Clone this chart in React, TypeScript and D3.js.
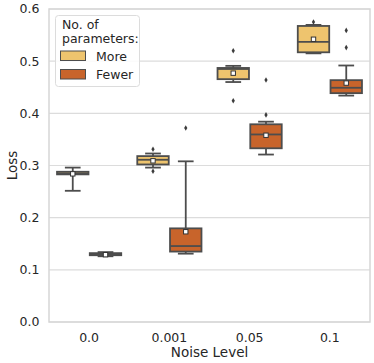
import React, { useEffect, useRef } from 'react';
import * as d3 from 'd3';

const noiseLevels = ['0.0', '0.001', '0.05', '0.1'];
const paramGroups = ['More', 'Fewer'];
const yTicks = [0.0, 0.1, 0.2, 0.3, 0.4, 0.5, 0.6];

// box stats per noise level
const moreLow = [0.2515, 0.296, 0.46, 0.515];
const moreQ1 = [0.283, 0.302, 0.4655, 0.517];
const moreMedian = [0.285, 0.311, 0.485, 0.537];
const moreQ3 = [0.288, 0.318, 0.487, 0.5675];
const moreHigh = [0.296, 0.323, 0.491, 0.5695];
const moreMean = [0.284, 0.309, 0.477, 0.542];
const moreOutliers = [[], [0.331, 0.289], [0.52, 0.424], [0.575]];

const fewerLow = [0.126, 0.131, 0.321, 0.434];
const fewerQ1 = [0.128, 0.135, 0.333, 0.4387];
const fewerMedian = [0.13, 0.1456, 0.3595, 0.449];
const fewerQ3 = [0.132, 0.1795, 0.379, 0.4636];
const fewerHigh = [0.134, 0.308, 0.384, 0.4917];
const fewerMean = [0.129, 0.173, 0.358, 0.458];
const fewerOutliers = [[], [0.372], [0.397, 0.464], [0.559, 0.526]];

const colors = { More: '#eec46e', Fewer: '#c8642b' };
const edge = '#4d4d4d';

export default function App() {
  const ref = useRef<SVGSVGElement>(null);

  useEffect(() => {
    const svg = d3.select(ref.current);
    svg.selectAll('*').remove();

    const margin = { top: 9, right: 4, bottom: 41, left: 49 };
    const width = 374, height = 363;
    const font = 'DejaVu Sans, sans-serif';

    const x = d3.scaleBand().domain(noiseLevels)
      .range([margin.left, width - margin.right]);
    const hue = d3.scaleBand().domain(paramGroups)
      .range([0, x.bandwidth() * 0.8]).paddingInner(0.04);
    const y = d3.scaleLinear().domain([0, 0.6])
      .range([height - margin.bottom, margin.top]);

    // grid
    svg.append('g').selectAll('line').data(yTicks).enter().append('line')
      .attr('x1', margin.left).attr('x2', width - margin.right)
      .attr('y1', d => y(d)).attr('y2', d => y(d))
      .attr('stroke', '#dcdcdc').attr('stroke-width', 1.2);
    svg.append('rect')
      .attr('x', margin.left).attr('y', margin.top)
      .attr('width', width - margin.right - margin.left)
      .attr('height', height - margin.bottom - margin.top)
      .attr('fill', 'none').attr('stroke', '#d6d6d6').attr('stroke-width', 1.5);

    // tick labels
    svg.append('g').selectAll('text').data(yTicks).enter().append('text')
      .attr('x', margin.left - 9.5).attr('y', d => y(d)).attr('dy', '0.35em')
      .attr('text-anchor', 'end').attr('font-family', font).attr('font-size', 12.5)
      .attr('fill', '#262626').text(d => d.toFixed(1));
    svg.append('g').selectAll('text').data(noiseLevels).enter().append('text')
      .attr('x', d => x(d)! + x.bandwidth() / 2).attr('y', height - margin.bottom + 20)
      .attr('text-anchor', 'middle').attr('font-family', font).attr('font-size', 12.5)
      .attr('fill', '#262626').text(d => d);

    svg.append('text')
      .attr('x', (margin.left + width - margin.right) / 2).attr('y', height - 6)
      .attr('text-anchor', 'middle').attr('font-family', font).attr('font-size', 13.5)
      .attr('fill', '#262626').text('Noise Level');
    svg.append('text')
      .attr('transform', `translate(17,${y(0.3)}) rotate(-90)`)
      .attr('text-anchor', 'middle').attr('font-family', font).attr('font-size', 13.5)
      .attr('fill', '#262626').text('Loss');

    const series = [
      { key: 'More', low: moreLow, q1: moreQ1, med: moreMedian, q3: moreQ3, high: moreHigh, mean: moreMean, out: moreOutliers },
      { key: 'Fewer', low: fewerLow, q1: fewerQ1, med: fewerMedian, q3: fewerQ3, high: fewerHigh, mean: fewerMean, out: fewerOutliers },
    ];

    series.forEach(s => {
      noiseLevels.forEach((lvl, i) => {
        const x0 = x(lvl)! + x.bandwidth() * 0.1 + hue(s.key)!;
        const w = hue.bandwidth();
        const cx = x0 + w / 2;
        const g = svg.append('g');
        const lw = 1.8;
        g.append('line').attr('x1', cx).attr('x2', cx)
          .attr('y1', y(s.low[i])).attr('y2', y(s.q1[i]))
          .attr('stroke', edge).attr('stroke-width', lw);
        g.append('line').attr('x1', cx).attr('x2', cx)
          .attr('y1', y(s.q3[i])).attr('y2', y(s.high[i]))
          .attr('stroke', edge).attr('stroke-width', lw);
        [s.low[i], s.high[i]].forEach(v => {
          g.append('line').attr('x1', cx - w / 4).attr('x2', cx + w / 4)
            .attr('y1', y(v)).attr('y2', y(v))
            .attr('stroke', edge).attr('stroke-width', lw);
        });
        g.append('rect')
          .attr('x', x0).attr('y', y(s.q3[i]))
          .attr('width', w).attr('height', Math.max(y(s.q1[i]) - y(s.q3[i]), 1))
          .attr('fill', colors[s.key as 'More' | 'Fewer'])
          .attr('stroke', edge).attr('stroke-width', lw);
        g.append('line').attr('x1', x0).attr('x2', x0 + w)
          .attr('y1', y(s.med[i])).attr('y2', y(s.med[i]))
          .attr('stroke', edge).attr('stroke-width', lw);
        s.out[i].forEach(v => {
          g.append('path')
            .attr('d', d3.symbol(d3.symbolDiamond, 9)())
            .attr('transform', `translate(${cx},${y(v)})`)
            .attr('fill', '#3c3c3c');
        });
        g.append('rect')
          .attr('x', cx - 2.2).attr('y', y(s.mean[i]) - 2.2)
          .attr('width', 4.4).attr('height', 4.4)
          .attr('fill', 'white').attr('stroke', '#333').attr('stroke-width', 1);
      });
    });

    // legend
    const lg = svg.append('g');
    lg.append('rect').attr('x', 55.5).attr('y', 15.5).attr('width', 84).attr('height', 71)
      .attr('rx', 3).attr('fill', 'white').attr('fill-opacity', 0.85)
      .attr('stroke', '#dcdcdc');
    lg.append('text').attr('x', 62).attr('y', 29).attr('font-family', font)
      .attr('font-size', 12.5).attr('fill', '#262626').text('No. of');
    lg.append('text').attr('x', 62).attr('y', 43).attr('font-family', font)
      .attr('font-size', 12.5).attr('fill', '#262626').text('parameters:');
    paramGroups.forEach((p, i) => {
      lg.append('rect').attr('x', 60.5).attr('y', 51 + i * 18.5)
        .attr('width', 25).attr('height', 9.5)
        .attr('fill', colors[p as 'More' | 'Fewer']).attr('stroke', edge).attr('stroke-width', 1);
      lg.append('text').attr('x', 96).attr('y', 60.5 + i * 18.5).attr('font-family', font)
        .attr('font-size', 12.5).attr('fill', '#262626').text(p);
    });
  }, []);

  return (
    <svg ref={ref} width={374} height={363}
      style={{ position: 'absolute', left: 0, top: 0, background: 'white' }} />
  );
}
